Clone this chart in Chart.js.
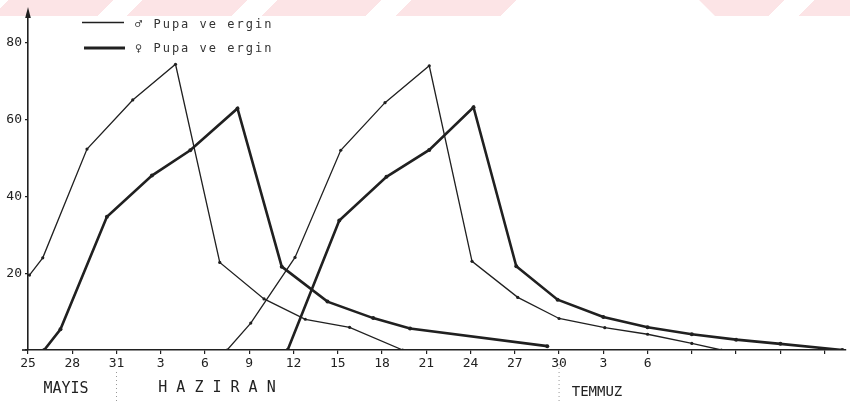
<!DOCTYPE html>
<html>
<head>
<meta charset="utf-8">
<script src="https://cdn.jsdelivr.net/npm/chart.js@4/dist/chart.umd.min.js"></script>
<style>
    html, body { margin: 0; padding: 0; background: #fff; }
    #wrap { position: relative; width: 850px; height: 403px; }
    #stripe {
        position: absolute; left: 0; top: 0; width: 850px; height: 16px;
        background: repeating-linear-gradient(135deg, #fff 0px, #fff 6px, #fce4e6 6px, #fce4e6 80px, #fff 80px, #fff 95px);
    }
    #gap {
        position: absolute; left: 525px; top: 0; width: 190px; height: 16px;
        background: #fff;
        clip-path: polygon(16px 0, 174px 0, 190px 16px, 0 16px);
    }
    #chart { position: absolute; left: 0; top: 0; }
</style>
</head>
<body>
<div id="wrap">
    <div id="stripe"></div>
    <div id="gap"></div>
    <canvas id="chart" width="850" height="403"></canvas>
</div>
<script>
// days counted from 25 Mayis (0) ; one tick every 3 days
const dayLabels = ['25', '28', '31', '3', '6', '9', '12', '15', '18', '21', '24', '27', '30', '3', '6', '', '', '', ''];
const yTicks = [20, 40, 60, 80];

// erkek (thin line), 1. and 2. generation
const maleDays1 = [0.1, 1.0, 4.0, 7.1, 10.0, 13.0, 16.0, 18.8, 21.8, 25.4];
const maleValues1 = [19.5, 24.0, 52.3, 65.1, 74.4, 22.8, 13.3, 8.0, 5.9, 0];
const maleDays2 = [13.5, 15.1, 18.1, 21.2, 24.2, 27.2, 30.1, 33.2, 36.0, 39.1, 42.0, 45.0, 47.0];
const maleValues2 = [0, 7.0, 24.1, 52.0, 64.4, 74.0, 23.1, 13.7, 8.2, 5.8, 4.1, 1.7, 0];

// disi (thick line)
const femaleDays1 = [1.1, 2.2, 5.35, 8.4, 11.0, 14.2, 17.2, 20.3, 23.4, 25.9, 35.2];
const femaleValues1 = [0, 5.4, 34.7, 45.4, 52.0, 62.9, 21.7, 12.6, 8.3, 5.6, 1.0];
const femaleDays2 = [17.6, 21.1, 24.3, 27.2, 30.2, 33.1, 35.9, 39.0, 42.0, 45.0, 48.0, 51.0, 55.2];
const femaleValues2 = [0, 33.7, 45.1, 52.1, 63.2, 21.8, 13.1, 8.6, 5.9, 4.1, 2.7, 1.6, 0];

const ink = '#202020';

function toPoints(days, values) {
    return days.map((d, i) => ({ x: d, y: values[i] }));
}

function lineSet(days, values, width, radius) {
    return {
        data: toPoints(days, values),
        borderColor: ink,
        borderWidth: width,
        pointRadius: radius,
        pointBackgroundColor: ink,
        pointBorderWidth: 0,
        tension: 0,
        fill: false
    };
}

// arrow, legend, month names and the dotted month separators
const decorations = {
    id: 'decorations',
    afterDraw(chart) {
        const ctx = chart.ctx;
        const area = chart.chartArea;
        const xs = chart.scales.x;
        ctx.save();
        ctx.strokeStyle = ink;
        ctx.fillStyle = ink;

        // y axis arrow
        ctx.lineWidth = 1.6;
        ctx.beginPath();
        ctx.moveTo(area.left, area.top);
        ctx.lineTo(area.left, 12);
        ctx.stroke();
        ctx.beginPath();
        ctx.moveTo(area.left, 7);
        ctx.lineTo(area.left - 2.8, 18);
        ctx.lineTo(area.left + 2.8, 18);
        ctx.closePath();
        ctx.fill();

        // x axis sticks out left of the y axis
        ctx.beginPath();
        ctx.moveTo(22, area.bottom);
        ctx.lineTo(area.left, area.bottom);
        ctx.stroke();

        // legend
        ctx.lineWidth = 1.3;
        ctx.beginPath();
        ctx.moveTo(82, 22.5);
        ctx.lineTo(124, 22.5);
        ctx.stroke();
        ctx.lineWidth = 2.8;
        ctx.beginPath();
        ctx.moveTo(84, 48);
        ctx.lineTo(125, 48);
        ctx.stroke();

        ctx.fillStyle = '#333';
        ctx.font = '12px "DejaVu Sans Mono"';
        ctx.letterSpacing = '2px';
        ctx.textBaseline = 'middle';
        ctx.textAlign = 'left';
        ctx.fillText('♂ Pupa ve ergin', 135, 25);
        ctx.fillText('♀ Pupa ve ergin', 135, 49);

        // month names
        ctx.letterSpacing = '0px';
        ctx.font = '15px "DejaVu Sans Mono"';
        ctx.fillStyle = '#222';
        ctx.textAlign = 'center';
        ctx.fillText('MAYIS', 66, 389);
        ctx.fillText('H A Z I R A N', 217, 388);
        ctx.font = '14px "DejaVu Sans Mono"';
        ctx.fillText('TEMMUZ', 597, 392);

        // dotted separators at 31 Mayis and 30 Haziran
        ctx.strokeStyle = '#999';
        ctx.lineWidth = 1;
        ctx.setLineDash([1, 3]);
        ctx.beginPath();
        ctx.moveTo(xs.getPixelForValue(6), 372);
        ctx.lineTo(xs.getPixelForValue(6), 401);
        ctx.moveTo(xs.getPixelForValue(36), 364);
        ctx.lineTo(xs.getPixelForValue(36), 403);
        ctx.stroke();
        ctx.restore();
    }
};

const ctx = document.getElementById('chart').getContext('2d');
new Chart(ctx, {
    type: 'line',
    data: {
        datasets: [
            lineSet(maleDays1, maleValues1, 1.3, 1.6),
            lineSet(maleDays2, maleValues2, 1.3, 1.6),
            lineSet(femaleDays1, femaleValues1, 2.6, 2),
            lineSet(femaleDays2, femaleValues2, 2.6, 2)
        ]
    },
    options: {
        responsive: false,
        animation: false,
        layout: { padding: { top: 12, right: 3, left: 0, bottom: 0 } },
        plugins: {
            legend: { display: false },
            tooltip: { enabled: false }
        },
        scales: {
            x: {
                type: 'linear',
                min: 0,
                max: 55.45,
                afterFit: function(scale) { scale.height = 53; },
                border: { display: true, color: ink, width: 1.6 },
                grid: { display: true, drawOnChartArea: false, tickLength: 4, color: ink, lineWidth: 1.2 },
                ticks: {
                    stepSize: 3,
                    includeBounds: false,
                    autoSkip: false,
                    maxRotation: 0,
                    padding: 2,
                    color: '#222',
                    font: { family: 'DejaVu Sans Mono', size: 13 },
                    callback: function(value) {
                        const i = Math.round(value / 3);
                        return dayLabels[i] !== undefined ? dayLabels[i] : '';
                    }
                }
            },
            y: {
                min: 0,
                max: 88,
                afterFit: function(scale) { scale.width = 28; },
                border: { display: true, color: ink, width: 1.6 },
                grid: { display: true, drawOnChartArea: false, tickLength: 3, color: ink, lineWidth: 1.2 },
                ticks: {
                    stepSize: 20,
                    includeBounds: false,
                    padding: 3,
                    color: '#222',
                    font: { family: 'DejaVu Sans Mono', size: 13 },
                    callback: function(value) {
                        return yTicks.includes(value) ? String(value) : '';
                    }
                }
            }
        }
    },
    plugins: [decorations]
});
</script>
</body>
</html>
